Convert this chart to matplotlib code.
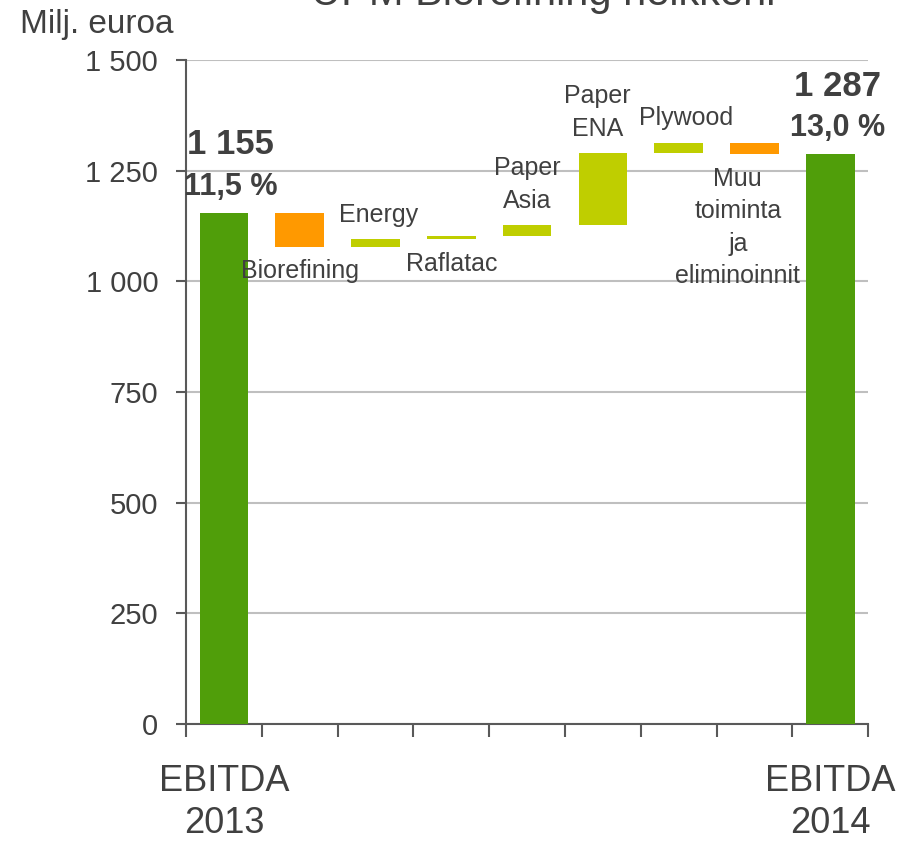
import numpy as np
import matplotlib
matplotlib.use('Agg')
import matplotlib.pyplot as plt
from matplotlib.ticker import FuncFormatter

plt.rcParams['font.family'] = ['Liberation Sans', 'DejaVu Sans']

# Data
start_label = 'EBITDA\n2013'
end_label = 'EBITDA\n2014'
start_value = 1155
end_value = 1287
start_margin = '11,5 %'
end_margin = '13,0 %'
steps = ['Biorefining', 'Energy', 'Raflatac', 'Paper\nAsia', 'Paper\nENA',
         'Plywood', 'Muu\ntoiminta\nja\neliminoinnit']
deltas = [-77, 17, 7, 25, 162, 24, -26]
yticks = [0, 250, 500, 750, 1000, 1250, 1500]

# styles
text_col = '#404040'
total_col = '#509E0A'
up_col = '#BFCE00'
down_col = '#FF9900'
label_side = ['below', 'above', 'below', 'above', 'above', 'above', 'below']
label_dx = [0, 2, 0, 0, -4, 5, -12]

fig = plt.figure(figsize=(9.17, 8.47), dpi=100)
ax = fig.add_axes([0.2028, 0.1452, 0.744, 0.784])

width = 0.64
n = len(steps) + 2
centers = np.arange(n) + 0.5

# start and end totals
ax.bar(centers[0], start_value, width=width, color=total_col, zorder=3)
ax.bar(centers[-1], end_value, width=width, color=total_col, zorder=3)

# floating steps
levels = start_value + np.cumsum(deltas)
prev = np.concatenate([[start_value], levels[:-1]])
bottoms = np.minimum(prev, levels)
heights = np.abs(deltas)
colors = [up_col if d > 0 else down_col for d in deltas]
ax.bar(centers[1:-1], heights, bottom=bottoms, width=width, color=colors, zorder=3)

for i, name in enumerate(steps):
    x = centers[i + 1]
    if label_side[i] == 'above':
        ax.annotate(name, (x, bottoms[i] + heights[i]), xytext=(label_dx[i], 9),
                    textcoords='offset points', ha='center', va='bottom',
                    fontsize=18, color=text_col, linespacing=1.45, zorder=4)
    else:
        ax.annotate(name, (x, bottoms[i]), xytext=(label_dx[i], -9),
                    textcoords='offset points', ha='center', va='top',
                    fontsize=18, color=text_col, linespacing=1.45, zorder=4)

# totals labels
for x, v, m in [(centers[0], start_value, start_margin), (centers[-1], end_value, end_margin)]:
    ax.annotate(m, (x, v), xytext=(5, 13), textcoords='offset points',
                ha='center', va='baseline', fontsize=22, fontweight='bold', color=text_col)
    ax.annotate(f'{v:,}'.replace(',', ' '), (x, v), xytext=(5, 42), textcoords='offset points',
                ha='center', va='baseline', fontsize=25, fontweight='bold', color=text_col)

ax.set_xlim(0, n)
ax.set_ylim(0, 1500)
ax.set_yticks(yticks)
ax.yaxis.set_major_formatter(FuncFormatter(lambda v, p: f'{int(v):,}'.replace(',', ' ')))
ax.set_xticks(np.arange(n + 1))
ax.set_xticklabels([])
xlabels = [start_label] + [''] * len(steps) + [end_label]
ax.set_xticks(centers, labels=xlabels, minor=True)
ax.tick_params(axis='x', which='minor', length=0, pad=29, labelsize=26, labelcolor=text_col)
ax.tick_params(axis='x', which='major', direction='out', length=9, width=1.5, color='#595959')
ax.tick_params(axis='y', direction='out', length=7, width=1.5, color='#595959',
               labelsize=21, labelcolor=text_col, pad=13)
for t in ax.xaxis.get_minorticklabels():
    t.set_linespacing(1.25)

ax.yaxis.grid(True, color='#BFBFBF', linewidth=1.5, zorder=0)
ax.set_axisbelow(True)
for s in ['top', 'right']:
    ax.spines[s].set_visible(False)
for s in ['left', 'bottom']:
    ax.spines[s].set_color('#595959')
    ax.spines[s].set_linewidth(1.5)

fig.text(0.022, 0.961, 'Milj. euroa', fontsize=24, color=text_col, va='baseline')
fig.text(0.592, 0.994, 'UPM Biorefining heikkeni', fontsize=30, color=text_col,
         ha='center', va='baseline')

plt.savefig('out.png', dpi=100)
